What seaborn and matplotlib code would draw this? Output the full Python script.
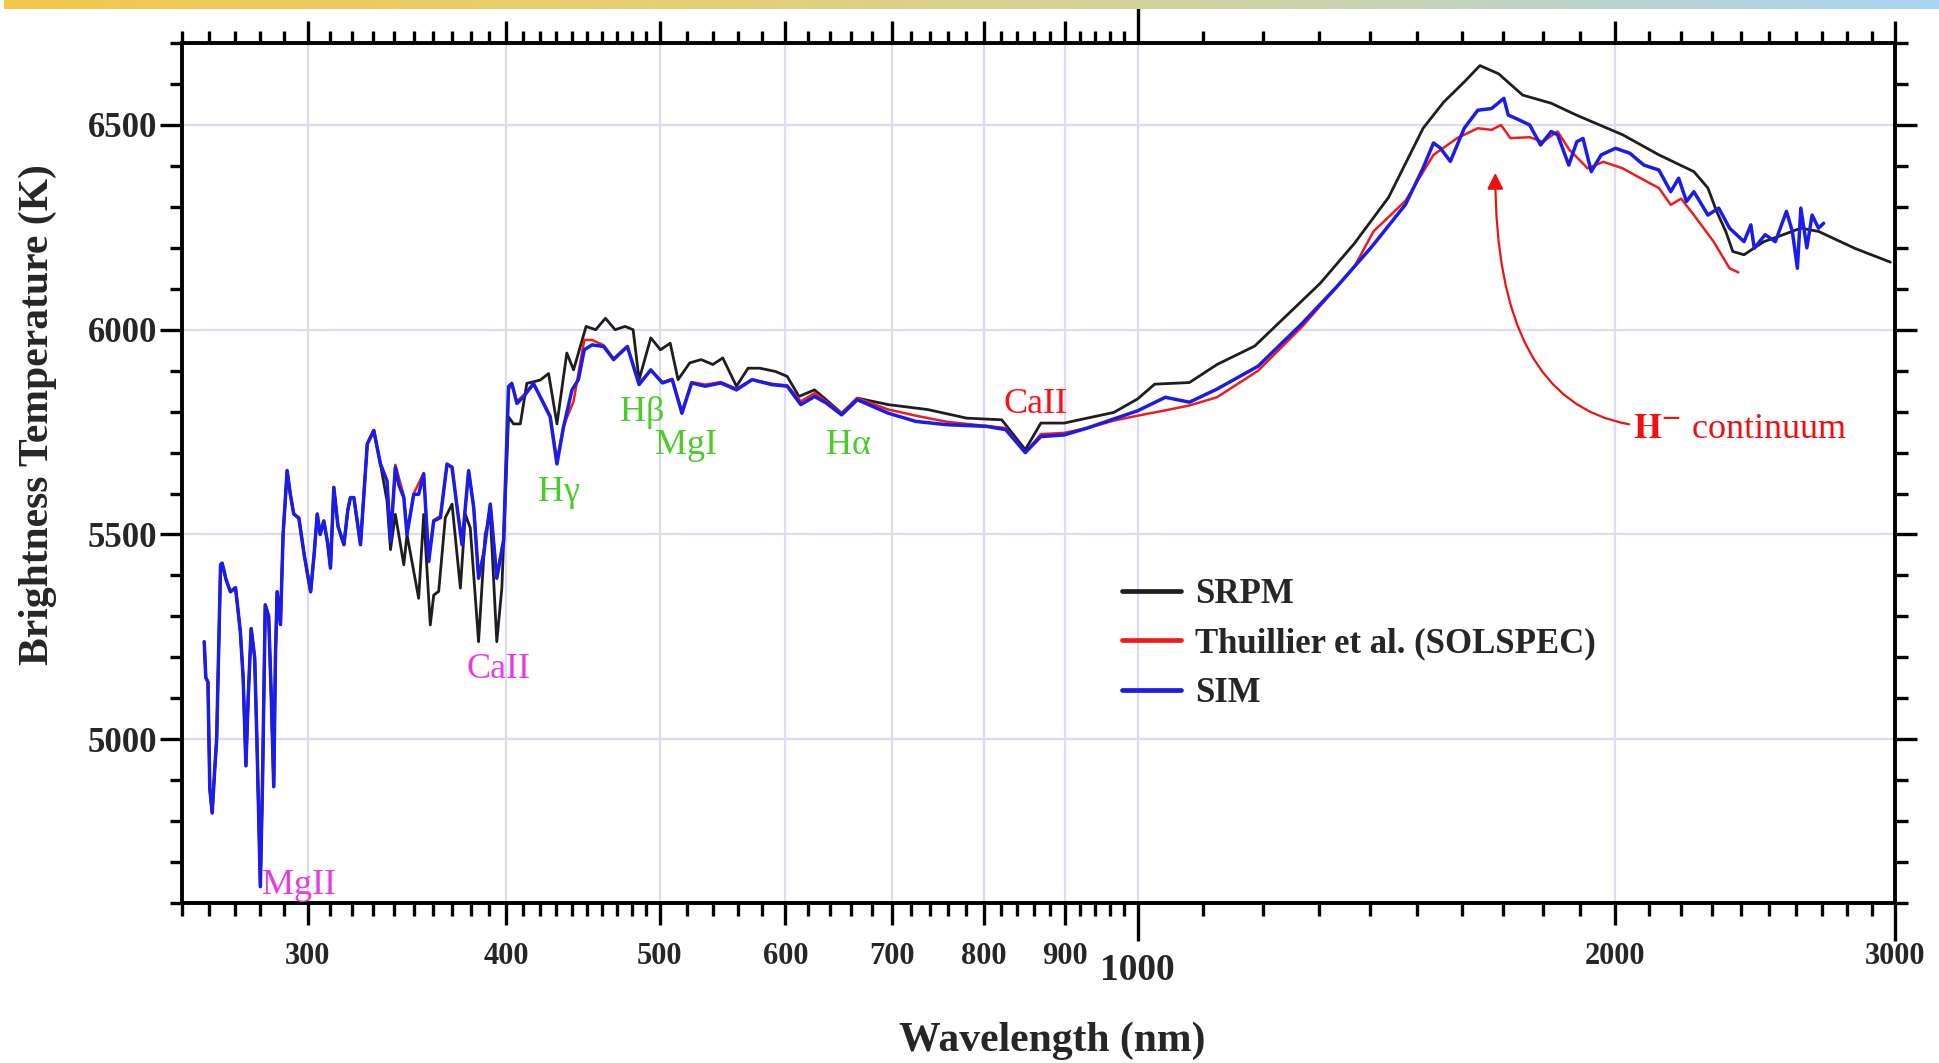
import numpy as np
import pandas as pd
import seaborn as sns
import matplotlib.pyplot as plt
from matplotlib.colors import LinearSegmentedColormap
from matplotlib.ticker import NullFormatter

# UV part: the three spectra lie on top of each other below ~335 nm
uv_wl = [258.2, 258.8, 259.6, 260.3, 261.2, 262.2, 262.9, 264.4, 265.0, 266.5,
         268.2, 270.2, 272.1, 273.2, 274.3, 275.2, 276.4, 277.8, 278.7, 280.1,
         281.0, 282.1, 283.5, 284.6, 285.6, 286.3, 287.0, 288.4, 289.5, 291.2,
         292.5, 294.0, 296.2, 298.5, 301.3, 302.8, 304.2, 305.5, 307.1, 308.8,
         310.1, 311.6, 313.5, 316.2, 318.0, 319.2, 320.8, 323.9, 325.5, 327.1,
         330.2, 333.4]
uv_t = [5238, 5150, 5140, 4880, 4820, 4930, 5000, 5426, 5430, 5390,
        5360, 5370, 5262, 5150, 4935, 5100, 5270, 5200, 5000, 4640,
        4900, 5328, 5300, 5100, 4884, 5200, 5360, 5280, 5500, 5656,
        5600, 5550, 5540, 5450, 5360, 5450, 5550, 5500, 5533, 5480,
        5418, 5615, 5520, 5475, 5560, 5590, 5590, 5475, 5600, 5721,
        5754, 5672]

srpm_wl = [336.6, 338.3, 340.7, 344.9, 346.5, 352.4, 355.0, 358.4, 360.2, 362.8,
           366.3, 369.9, 374.4, 377.1, 379.8, 384.4, 388.1, 391.0, 394.7, 397.6,
           401.5, 404.4, 408.4, 412.3, 420.4, 425.5, 430.7, 436.9, 441.2, 449.3,
           455.6, 462.1, 468.6, 475.4, 481.0, 485.2, 493.5, 500.5, 507.6, 513.4,
           522.2, 530.9, 540.0, 547.8, 558.8, 568.3, 578.1, 591.3, 601.5, 611.8,
           625.8, 636.5, 650.9, 665.8, 696.6, 737.5, 780.5, 821.1, 849.6, 869.0,
           898.9, 966, 1000, 1025, 1078, 1122, 1185, 1239, 1303, 1369,
           1439, 1513, 1559, 1606, 1643, 1688, 1748, 1822, 1890, 2021,
           2130, 2241, 2287, 2316, 2347, 2371, 2410, 2480, 2510, 2617,
           2685, 2829, 2980]
srpm_t = [5582, 5463, 5549, 5426, 5500, 5344, 5549, 5279, 5352, 5361,
          5541, 5574, 5369, 5549, 5516, 5238, 5500, 5549, 5238, 5369,
          5787, 5770, 5770, 5869, 5877, 5893, 5770, 5943, 5902, 6008,
          6000, 6028, 6000, 6008, 6000, 5878, 5980, 5951, 5967, 5878,
          5919, 5927, 5915, 5931, 5862, 5906, 5906, 5898, 5886, 5837,
          5853, 5829, 5796, 5833, 5817, 5805, 5784, 5780, 5707, 5772,
          5772, 5798, 5831, 5867, 5871, 5915, 5960, 6032, 6113, 6210,
          6323, 6492, 6556, 6605, 6645, 6625, 6573, 6553, 6524, 6476,
          6427, 6386, 6346, 6289, 6240, 6191, 6183, 6215, 6222, 6248,
          6240, 6199, 6165]

sol_wl = [336.6, 338.3, 340.7, 344.9, 346.5, 349.9, 355.0, 357.6, 360.2, 363.7,
          367.2, 369.9, 372.6, 375.3, 378.9, 381.7, 384.4, 387.2, 391.0, 394.7,
          398.6, 401.5, 403.4, 406.4, 410.3, 416.3, 421.4, 426.5, 430.7, 434.8,
          441.2, 448.1, 453.2, 460.9, 467.6, 477.0, 485.2, 493.5, 501.9, 509.1,
          516.3, 523.6, 534.1, 546.3, 558.8, 571.6, 588.1, 601.5, 613.5, 625.8,
          636.5, 650.9, 665.8, 696.6, 725.0, 758.6, 802.8, 825.8, 849.6, 869.0,
          898.9, 929.8, 966, 1000, 1041, 1078, 1122, 1191, 1270, 1369,
          1408, 1475, 1536, 1590, 1638, 1671, 1694, 1717, 1766, 1800,
          1839, 1870, 1921, 1965, 2021, 2074, 2130, 2167, 2200, 2241,
          2306, 2360, 2390]
sol_t = [5631, 5490, 5670, 5595, 5505, 5600, 5650, 5440, 5535, 5545,
         5670, 5665, 5570, 5480, 5655, 5570, 5400, 5455, 5575, 5400,
         5490, 5855, 5865, 5825, 5840, 5865, 5830, 5790, 5680, 5765,
         5825, 5975, 5975, 5962, 5930, 5960, 5870, 5900, 5872, 5880,
         5800, 5872, 5866, 5872, 5856, 5878, 5868, 5864, 5825, 5845,
         5825, 5795, 5833, 5805, 5790, 5775, 5765, 5760, 5700, 5745,
         5748, 5760, 5778, 5790, 5803, 5815, 5835, 5900, 6008, 6153,
         6240, 6315, 6427, 6468, 6492, 6488, 6500, 6468, 6470, 6459,
         6484, 6440, 6394, 6410, 6394, 6370, 6346, 6305, 6320, 6280,
         6215, 6150, 6140]

sim_wl = [336.6, 338.3, 340.7, 342.5, 344.9, 346.5, 349.9, 352.4, 355.0, 357.6,
          360.2, 363.7, 367.2, 369.9, 372.6, 375.3, 378.9, 381.7, 384.4, 387.2,
          391.0, 394.7, 398.6, 401.5, 403.4, 406.4, 410.3, 416.3, 421.4, 426.5,
          430.7, 434.8, 440.2, 444.3, 448.1, 453.2, 460.9, 467.6, 477.0, 485.2,
          493.5, 501.9, 509.1, 516.3, 523.6, 534.1, 546.3, 558.8, 571.6, 588.1,
          601.5, 613.5, 625.8, 636.5, 650.9, 665.8, 696.6, 725.0, 758.6, 802.8,
          825.8, 849.6, 869.0, 898.9, 929.8, 966, 1000, 1041, 1078, 1122,
          1191, 1270, 1335, 1404, 1475, 1513, 1536, 1551, 1574, 1606,
          1638, 1671, 1701, 1712, 1731, 1766, 1794, 1822, 1839, 1869,
          1891, 1908, 1931, 1959, 2000, 2042, 2084, 2130, 2167, 2192,
          2217, 2241, 2287, 2323, 2360, 2410, 2434, 2446, 2485, 2522,
          2563, 2585, 2604, 2617, 2640, 2660, 2685, 2705]
sim_t = [5631, 5484, 5664, 5620, 5590, 5500, 5598, 5598, 5648, 5434,
         5533, 5541, 5672, 5664, 5566, 5475, 5656, 5566, 5393, 5450,
         5574, 5393, 5484, 5861, 5869, 5820, 5836, 5869, 5828, 5787,
         5672, 5762, 5853, 5878, 5951, 5963, 5959, 5927, 5959, 5866,
         5902, 5870, 5878, 5796, 5870, 5862, 5870, 5853, 5878, 5866,
         5862, 5817, 5837, 5821, 5792, 5829, 5796, 5776, 5768, 5764,
         5756, 5700, 5739, 5743, 5760, 5782, 5802, 5835, 5823, 5855,
         5911, 6016, 6105, 6202, 6306, 6395, 6456, 6444, 6411, 6492,
         6536, 6540, 6565, 6524, 6516, 6500, 6451, 6484, 6476, 6402,
         6459, 6467, 6386, 6427, 6443, 6431, 6402, 6390, 6337, 6370,
         6313, 6337, 6280, 6297, 6248, 6215, 6256, 6199, 6232, 6215,
         6289, 6240, 6150, 6297, 6200, 6280, 6248, 6260]

SOURCES = ["SRPM", "Thuillier et al. (SOLSPEC)", "SIM"]
COLORS = ["#1e1e1e", "#f01c1c", "#1c1ce8"]

major_ticks = [300, 400, 500, 600, 700, 800, 900, 1000, 2000, 3000]
major_labels = ["300", "400", "500", "600", "700", "800", "900", "1000", "2000", "3000"]

# line identifications: (text, wavelength, temperature, colour)
line_ids = [
    ("MgII", 296.2, 4643, "#e63ce6"),
    ("CaII", 395.9, 5170, "#e63ce6"),
    ("H\u03b3", 432.2, 5602, "#4ccc2a"),
    ("H\u03b2", 487.5, 5799, "#4ccc2a"),
    ("MgI", 519.1, 5717, "#4ccc2a"),
    ("H\u03b1", 657.7, 5717, "#4ccc2a"),
    ("CaII", 861.7, 5817, "#ff1010"),
]


def build_frame():
    frames = []
    for name, wl, t in zip(SOURCES, [srpm_wl, sol_wl, sim_wl], [srpm_t, sol_t, sim_t]):
        frames.append(pd.DataFrame({
            "wavelength": uv_wl + wl,
            "temperature": uv_t + t,
            "source": name,
        }))
    return pd.concat(frames, ignore_index=True)


def main():
    df = build_frame()

    sns.set_theme(style="white")
    plt.rcParams["font.family"] = ["Liberation Serif", "DejaVu Serif"]
    plt.rcParams["mathtext.fontset"] = "stix"

    fig = plt.figure(figsize=(19.4, 10.63), dpi=100)
    ax = fig.add_axes([0.0938, 0.1505, 0.883, 0.809])

    sns.lineplot(data=df, x="wavelength", y="temperature", hue="source",
                 hue_order=SOURCES, palette=COLORS, estimator=None, sort=False,
                 linewidth=2.0, ax=ax)
    for line, lw in zip(ax.lines, [2.0, 1.8, 2.5]):
        line.set_linewidth(lw)

    ax.set_xscale("log")
    ax.set_xlim(250, 3000)
    ax.set_ylim(4600, 6700)

    minor = ([v for v in range(250, 500, 10) if v not in (300, 400)]
             + [v for v in range(520, 1000, 20) if v not in (600, 700, 800, 900)]
             + [v for v in range(1100, 3000, 100) if v != 2000])
    ax.set_xticks(major_ticks, labels=major_labels, fontsize=22, fontweight="bold")
    ax.set_xticks(minor, minor=True)
    ax.xaxis.set_minor_formatter(NullFormatter())
    ax.set_yticks([5000, 5500, 6000, 6500], labels=["5000", "5500", "6000", "6500"],
                  fontsize=25, fontweight="bold")
    ax.set_yticks(list(range(4600, 6800, 100)), minor=True)

    ax.tick_params(which="both", direction="out", bottom=True, left=True,
                   top=True, right=True, color="black", width=2.4)
    ax.tick_params(which="major", length=16)
    ax.tick_params(which="minor", length=9)
    ax.tick_params(axis="x", which="major", pad=12)
    ax.tick_params(axis="y", which="major", pad=2)

    # the 1000 nm tick is drawn longer, with a larger, lower label
    for tick in ax.xaxis.get_major_ticks():
        loc = tick.get_loc()
        if abs(loc - 1000) < 1:
            tick.set_pad(20)
            tick.label1.set_fontsize(27)
            tick.tick1line.set_markersize(27)
            tick.tick2line.set_markersize(26)
        elif abs(loc - 3000) < 1:
            tick.tick1line.set_markersize(27)

    for side in ["left", "right", "top", "bottom"]:
        ax.spines[side].set_linewidth(2.8)
        ax.spines[side].set_color("black")

    ax.grid(True, which="major", color="#dcdcf0", linewidth=1.6)
    ax.set_axisbelow(True)

    ax.set_xlabel("Wavelength (nm)", fontsize=30, fontweight="bold")
    ax.set_ylabel("Brightness Temperature (K)", fontsize=30, fontweight="bold")
    ax.xaxis.set_label_coords(0.508, -0.138)
    ax.yaxis.set_label_coords(-0.073, 0.568)

    handles, labels = ax.get_legend_handles_labels()
    leg = ax.legend(handles, labels, loc="upper left", bbox_to_anchor=(0.549, 0.378),
                    frameon=False, prop={"weight": "bold", "size": 25},
                    handlelength=1.7, handletextpad=0.4, labelspacing=0.48,
                    borderaxespad=0, borderpad=0)
    for lh in leg.get_lines():
        lh.set_linewidth(3.4)

    for text, wl, t, col in line_ids:
        ax.text(wl, t, text, color=col, fontsize=26, ha="center", va="center")

    ax.text(2051, 5757, r"$\mathbf{H^{-}}$ continuum", color="#ee1111",
            fontsize=26, ha="left", va="center")
    ax.annotate("", xy=(1680, 6383), xytext=(2040, 5769),
                arrowprops=dict(arrowstyle="-|>", color="#ee1111", lw=1.6,
                                mutation_scale=24,
                                connectionstyle="angle3,angleA=170,angleB=90",
                                shrinkA=0, shrinkB=0))

    # coloured strip along the top edge
    strip = LinearSegmentedColormap.from_list(
        "strip", ["#f1c84b", "#e6cf74", "#cdd4aa", "#a8d3f4"])
    bar = fig.add_axes([0.002, 1 - 9 / 1063, 0.998, 9 / 1063])
    bar.imshow(np.linspace(0, 1, 400)[None, :], aspect="auto", cmap=strip)
    bar.set_axis_off()

    fig.savefig("out.png", dpi=100, facecolor="white")
    plt.close(fig)


if __name__ == "__main__":
    main()
